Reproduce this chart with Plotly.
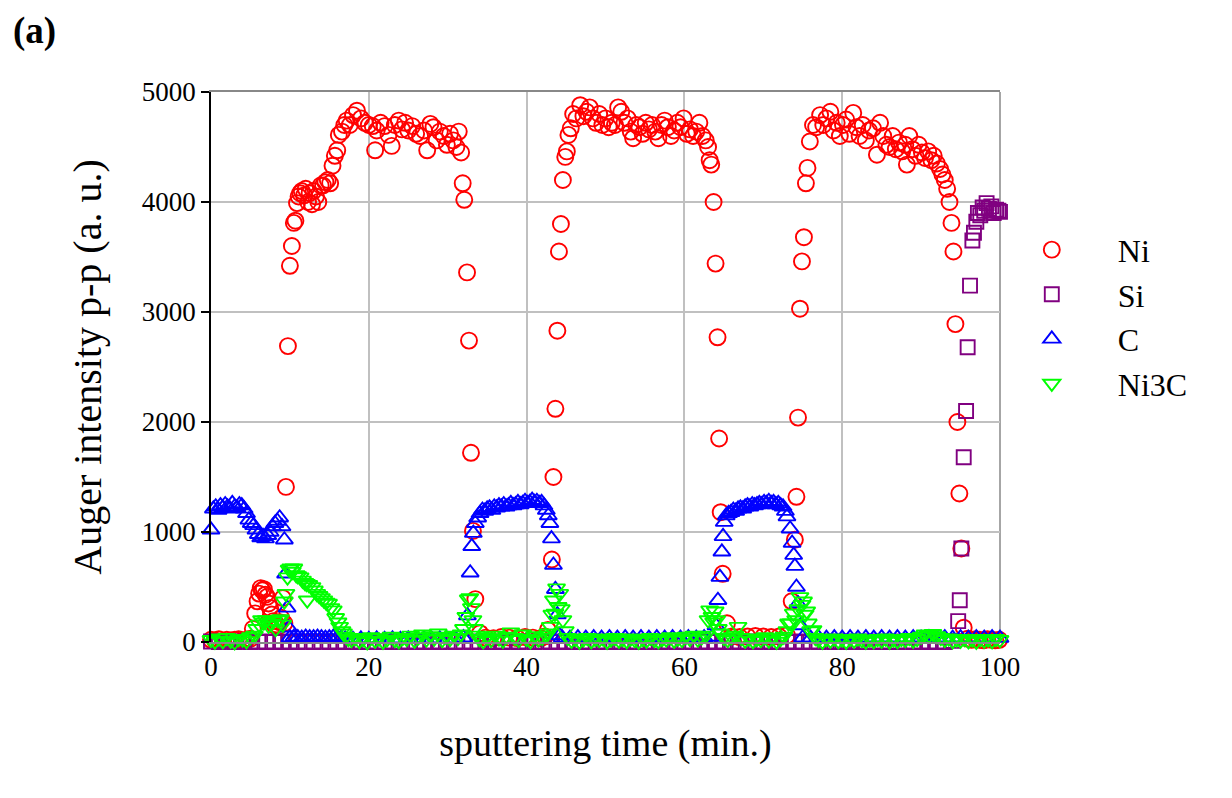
import plotly.graph_objects as go

# ---- data: (time [min], intensity [a.u.]) ----
ni_points = [
    (0, 20), (0.5, 15), (1, 25), (1.5, 10), (2, 20), (2.5, 15), (3, 20), (3.5, 25), (4, 15), (4.5, 20), (5, 30),
    (5.3, 120), (5.6, 260), (5.9, 370), (6.1, 440), (6.3, 490), (6.5, 470), (6.7, 480), (6.9, 430), (7.1, 410),
    (7.3, 350), (7.5, 310), (7.7, 250), (7.9, 190), (8.1, 150), (8.3, 160), (8.5, 140), (8.7, 180), (8.9, 220),
    (9.1, 400), (9.3, 170),
    (9.5, 1410), (9.75, 2690), (10.0, 3420), (10.25, 3600), (10.5, 3810), (10.7, 3830), (10.9, 3990), (11.1, 4050),
    (11.3, 4080), (11.5, 4100), (11.8, 4060), (12.0, 4120), (12.3, 4000), (12.5, 4080), (12.8, 3980), (13.0, 4100),
    (13.3, 4050), (13.6, 4000), (13.9, 4150), (14.2, 4150), (14.5, 4180), (14.8, 4200), (15.1, 4170), (15.4, 4330),
    (15.7, 4420), (16.0, 4470), (16.2, 4610), (16.6, 4640), (16.9, 4700), (17.2, 4740), (17.6, 4700), (18.0, 4790),
    (18.5, 4830), (19.0, 4760), (19.5, 4720), (20.0, 4700), (20.5, 4690), (20.8, 4470), (21.0, 4650), (21.5, 4720),
    (22.0, 4690), (22.5, 4610), (22.9, 4510), (23.3, 4700), (23.8, 4740), (24.2, 4660), (24.6, 4720), (25.0, 4650),
    (25.5, 4690), (26.0, 4620), (26.5, 4600), (27.0, 4650), (27.4, 4470), (27.8, 4710), (28.2, 4680), (28.6, 4560),
    (29.0, 4640), (29.5, 4600), (29.9, 4520), (30.3, 4620), (30.7, 4560), (31.1, 4500), (31.4, 4640), (31.7, 4450),
    (31.9, 4170), (32.1, 4020), (32.45, 3360), (32.7, 2740), (32.95, 1720), (33.2, 1010), (33.5, 390), (34.1, 80),
    (34.8, 40), (35.8, 35), (36.8, 45), (37.8, 40), (38.8, 35), (39.8, 45), (40.8, 40), (41.8, 35), (42.3, 50),
    (42.7, 110), (43.2, 750), (43.4, 1500), (43.65, 2120), (43.9, 2830), (44.1, 3550), (44.35, 3800), (44.6, 4200),
    (44.9, 4410), (45.1, 4460), (45.3, 4610), (45.6, 4670), (45.9, 4800), (46.3, 4760), (46.8, 4880), (47.2, 4780),
    (47.6, 4820), (48.0, 4860), (48.4, 4760), (48.8, 4720), (49.2, 4800), (49.6, 4700), (50.0, 4760), (50.4, 4680),
    (50.8, 4720), (51.2, 4700), (51.6, 4860), (52.0, 4820), (52.4, 4720), (52.8, 4760), (53.2, 4640), (53.5, 4580),
    (53.9, 4700), (54.3, 4680), (54.7, 4620), (55.1, 4720), (55.5, 4660), (55.9, 4700), (56.3, 4640), (56.7, 4580),
    (57.1, 4700), (57.5, 4740), (57.9, 4680), (58.3, 4600), (58.7, 4650), (59.1, 4720), (59.5, 4680), (59.9, 4760),
    (60.3, 4620), (60.7, 4660), (61.1, 4600), (61.5, 4640), (61.9, 4720), (62.3, 4600), (62.7, 4560), (63.0, 4500),
    (63.2, 4380), (63.4, 4340),
    (63.7, 4000), (63.95, 3440), (64.2, 2770), (64.4, 1850), (64.6, 1180), (64.85, 620), (65.4, 170),
    (66.0, 50), (67.0, 45), (68.0, 50), (69.0, 55), (70.0, 50), (71.0, 45), (72.0, 50), (73.0, 60),
    (73.6, 370), (74.0, 930), (74.2, 1320), (74.4, 2040), (74.65, 3030), (74.9, 3460), (75.15, 3680), (75.4, 4170),
    (75.6, 4310), (75.9, 4550), (76.3, 4700), (76.7, 4680), (77.2, 4790), (77.6, 4700), (78.0, 4760), (78.5, 4820),
    (78.9, 4650), (79.3, 4720), (79.7, 4600), (80.1, 4700), (80.5, 4750), (80.9, 4620), (81.4, 4810), (81.8, 4680),
    (82.2, 4600), (82.6, 4700), (83.0, 4560), (83.4, 4650), (83.9, 4670), (84.4, 4430), (84.8, 4720), (85.2, 4600),
    (85.6, 4520), (86.0, 4500), (86.4, 4600), (86.8, 4480), (87.2, 4540), (87.6, 4460), (88.0, 4520), (88.2, 4340),
    (88.5, 4600), (88.9, 4480), (89.3, 4420), (89.7, 4520), (90.1, 4450), (90.5, 4400), (90.9, 4460), (91.3, 4380),
    (91.6, 4420), (92.0, 4350), (92.4, 4300), (92.7, 4250), (93.0, 4200), (93.3, 4120), (93.6, 4000), (93.85, 3810),
    (94.1, 3550), (94.35, 2890), (94.6, 2000), (94.85, 1350), (95.1, 850), (95.4, 130),
    (95.9, 30), (96.4, 20), (96.9, 25), (97.4, 20), (97.9, 15), (98.4, 25), (98.9, 20), (99.4, 15), (99.9, 20),
]

si_points = [
    (0, 5), (1, 0), (2, 5), (3, 0), (4, 5), (5, 0), (6, 5), (7, 0), (8, 5), (9, 0), (10, 5), (11, 0), (12, 5),
    (13, 0), (14, 5), (15, 0), (16, 5), (17, 0), (18, 5), (19, 0), (20, 5), (21, 0), (22, 5), (23, 0), (24, 5),
    (25, 0), (26, 5), (27, 0), (28, 5), (29, 0), (30, 5), (31, 0), (32, 5), (33, 0), (34, 5), (35, 0), (36, 5),
    (37, 0), (38, 5), (39, 0), (40, 5), (41, 0), (42, 5), (43, 0), (44, 5), (45, 0), (46, 5), (47, 0), (48, 5),
    (49, 0), (50, 5), (51, 0), (52, 5), (53, 0), (54, 5), (55, 0), (56, 5), (57, 0), (58, 5), (59, 0), (60, 5),
    (61, 0), (62, 5), (63, 0), (64, 5), (65, 0), (66, 5), (67, 0), (68, 5), (69, 0), (70, 5), (71, 0), (72, 5),
    (73, 0), (74, 5), (75, 0), (76, 5), (77, 0), (78, 5), (79, 0), (80, 5), (81, 0), (82, 5), (83, 0), (84, 5),
    (85, 0), (86, 5), (87, 0), (88, 5), (89, 0), (90, 5), (91, 0), (92, 5), (93, 0), (94, 10),
    (94.7, 190), (94.9, 380), (95.1, 850), (95.4, 1680), (95.7, 2100), (95.9, 2680), (96.2, 3240), (96.5, 3650),
    (96.7, 3720), (97.0, 3820), (97.2, 3900), (97.5, 3880), (97.8, 3950), (98.0, 3920), (98.3, 3990), (98.6, 3940),
    (98.9, 3960), (99.2, 3900), (99.5, 3930), (99.8, 3920), (100.0, 3910),
]

c_points = [
    (0.0, 1020), (0.3, 1210), (0.6, 1230), (0.9, 1200), (1.2, 1240), (1.5, 1220), (1.8, 1250), (2.1, 1230),
    (2.4, 1210), (2.7, 1260), (3.0, 1230), (3.3, 1220), (3.6, 1250), (3.9, 1240), (4.2, 1210), (4.5, 1170),
    (4.8, 1110), (5.1, 1080), (5.4, 1060), (5.7, 1020), (6.0, 980), (6.3, 950), (6.6, 960), (6.9, 940),
    (7.2, 970), (7.5, 1000), (7.8, 1050), (8.1, 1080), (8.4, 1100), (8.7, 1130), (9.0, 1050), (9.3, 930),
    (9.45, 620), (9.65, 310), (9.85, 130),
    (10.0, 40), (10.5, 45), (11.0, 40), (11.5, 35), (12.0, 45), (12.5, 40), (13.0, 40), (13.5, 45), (14.0, 40),
    (14.5, 35), (15.0, 40), (15.5, 45), (16.0, 40), (16.5, 35), (17.0, 30), (18, 25), (19, 30), (20, 25),
    (21, 30), (22, 25), (23, 30), (24, 25), (25, 30), (26, 25), (27, 30), (28, 25), (29, 30), (30, 25), (31, 30),
    (32.0, 40), (32.5, 240), (32.85, 630), (33.05, 870), (33.25, 990), (33.5, 1080), (33.8, 1130), (34.1, 1170),
    (34.4, 1200), (34.7, 1190), (35.0, 1210), (35.3, 1220), (35.6, 1200), (35.9, 1230), (36.2, 1220), (36.5, 1240),
    (36.8, 1230), (37.1, 1250), (37.4, 1230), (37.7, 1240), (38.0, 1260), (38.3, 1240), (38.6, 1250), (38.9, 1270),
    (39.2, 1250), (39.5, 1260), (39.8, 1280), (40.1, 1260), (40.4, 1270), (40.7, 1290), (41.0, 1270), (41.3, 1280),
    (41.6, 1260), (41.9, 1270), (42.2, 1240), (42.5, 1200), (42.75, 1150), (42.95, 1080), (43.15, 940),
    (43.4, 700), (43.65, 480), (43.9, 250), (44.2, 60),
    (44.5, 40), (45.5, 35), (46.5, 40), (47.5, 35), (48.5, 40), (49.5, 35), (50.5, 40), (51.5, 35), (52.5, 40),
    (53.5, 35), (54.5, 40), (55.5, 35), (56.5, 40), (57.5, 35), (58.5, 40), (59.5, 35), (60.5, 40), (61.5, 35),
    (62.5, 40), (63.5, 45),
    (64.0, 150), (64.25, 380), (64.5, 590), (64.75, 820), (64.9, 960), (65.05, 1090), (65.3, 1150), (65.6, 1170),
    (65.9, 1180), (66.2, 1200), (66.5, 1190), (66.8, 1210), (67.1, 1220), (67.4, 1210), (67.7, 1230), (68.0, 1240),
    (68.3, 1230), (68.6, 1250), (68.9, 1240), (69.2, 1250), (69.5, 1260), (69.8, 1250), (70.1, 1270), (70.4, 1260),
    (70.7, 1280), (71.0, 1260), (71.3, 1270), (71.6, 1250), (71.9, 1260), (72.2, 1240), (72.5, 1230), (72.8, 1190),
    (73.0, 1140), (73.4, 1030), (73.65, 900), (73.85, 790), (74.0, 690), (74.2, 500), (74.4, 350), (74.7, 150),
    (75, 40), (76, 35), (77, 40), (78, 35), (79, 40), (80, 35), (81, 40), (82, 35), (83, 40), (84, 35), (85, 40),
    (86, 35), (87, 40), (88, 35), (89, 40), (90, 35), (91, 40), (92, 35), (93, 40), (94, 35), (95, 40), (96, 35),
    (97, 40), (98, 35), (99, 40), (100, 35),
]

ni3c_points = [
    (0, 20), (0.5, 5), (1, 35), (1.5, 10), (2, 40), (2.5, 15), (3, 0), (3.5, 30), (4, 25), (4.5, 10), (5, 45),
    (5.5, 60), (5.8, 120), (6.1, 160), (6.4, 200), (6.7, 180), (7.0, 200), (7.3, 150), (7.6, 170), (7.9, 190),
    (8.2, 120), (8.5, 200), (8.8, 210), (9.1, 160), (9.3, 370), (9.5, 440), (9.7, 590), (9.9, 660), (10.1, 670),
    (10.3, 640), (10.5, 670), (10.8, 610), (11.0, 600), (11.3, 590), (11.6, 560), (11.9, 540), (12.1, 530),
    (12.2, 380), (12.4, 520), (12.8, 500), (13.1, 470), (13.4, 440), (13.7, 420), (14.0, 400), (14.3, 380),
    (14.6, 360), (14.9, 350), (15.2, 310), (15.5, 290), (15.8, 220), (16.1, 180), (16.3, 140), (16.6, 100),
    (16.8, 80), (17.1, 50), (17.4, 30),
    (17.8, 20), (18.3, 40), (18.8, 10), (19.3, 30), (19.8, 0), (20.3, 45), (20.8, 15), (21.3, 35), (21.8, 5),
    (22.3, 25), (22.8, 50), (23.3, 20), (23.8, 10), (24.3, 40), (24.8, 30), (25.3, 60), (25.8, 15), (26.3, 45),
    (26.8, 70), (27.3, 25), (27.8, 55), (28.3, 35), (28.8, 80), (29.3, 20), (29.8, 50), (30.3, 30), (30.8, 60),
    (31.3, 40),
    (31.7, 70), (32.0, 120), (32.3, 230), (32.6, 390), (32.8, 400), (33.0, 310), (33.2, 200), (33.4, 120), (33.7, 60),
    (34.0, 30), (34.5, 10), (35.0, 45), (35.5, 20), (36.0, 60), (36.5, 35), (37.0, 15), (37.5, 50), (38.0, 90),
    (38.5, 40), (39.0, 20), (39.5, 70), (40.0, 30), (40.5, 10), (41.0, 55), (41.5, 25), (42.0, 40),
    (42.5, 60), (42.7, 80), (43.0, 140), (43.2, 250), (43.4, 380), (43.6, 260), (43.8, 490), (44.0, 320),
    (44.2, 440), (44.4, 300), (44.6, 200), (44.9, 100),
    (45.2, 40), (45.7, 15), (46.2, 30), (46.7, 5), (47.2, 25), (47.7, 40), (48.2, 10), (48.7, 30), (49.2, 20),
    (49.7, 35), (50.2, 5), (50.7, 25), (51.2, 40), (51.7, 15), (52.2, 30), (52.7, 10), (53.2, 35), (53.7, 20),
    (54.2, 5), (54.7, 30), (55.2, 15), (55.7, 40), (56.2, 20), (56.7, 10), (57.2, 30), (57.7, 25), (58.2, 45),
    (58.7, 15), (59.2, 35), (59.7, 20), (60.2, 50), (60.7, 30), (61.2, 60), (61.7, 25), (62.2, 45), (62.7, 60),
    (63.0, 200), (63.2, 290), (63.5, 230), (63.7, 180), (63.9, 280), (64.1, 200), (64.3, 120), (64.6, 80),
    (65.0, 40), (65.5, 20), (66.0, 45), (66.4, 60), (66.8, 140), (67.2, 40), (67.7, 15), (68.2, 35), (68.7, 10),
    (69.2, 30), (69.7, 20), (70.2, 45), (70.7, 15), (71.2, 35), (71.7, 5), (72.2, 30), (72.6, 50),
    (73.0, 100), (73.2, 170), (73.5, 170), (73.8, 260), (74.1, 200), (74.4, 300), (74.65, 410), (74.9, 340),
    (75.1, 370), (75.3, 250), (75.5, 280), (75.7, 170), (76.0, 100), (76.3, 110), (76.6, 40),
    (77.0, 20), (77.5, 5), (78.0, 30), (78.5, 15), (79.0, 35), (79.5, 10), (80.0, 25), (80.5, 5), (81.0, 30),
    (81.5, 15), (82.0, 35), (82.5, 20), (83.0, 5), (83.5, 25), (84.0, 10), (84.5, 30), (85.0, 15), (85.5, 35),
    (86.0, 5), (86.5, 25), (87.0, 10), (87.5, 30), (88.0, 20), (88.5, 40), (89.0, 15), (89.5, 30), (90.0, 50),
    (90.5, 70), (91.0, 60), (91.5, 75), (92.0, 55), (92.5, 40), (93.0, 20), (93.5, 35), (94.0, 10), (94.5, 25),
    (95.0, 15), (95.5, 30), (96.0, 10), (96.5, 25), (97.0, 5), (97.5, 30), (98.0, 15), (98.5, 25), (99.0, 10),
    (99.5, 30), (100.0, 20),
]

series_names = ["Ni", "Si", "C", "Ni3C"]
series_points = [ni_points, si_points, c_points, ni3c_points]
series_colors = ["#FF0000", "#800080", "#0000FF", "#00FF00"]
series_symbols = ["circle-open", "square-open", "triangle-up-open", "triangle-down-open"]
series_sizes = [16, 14, 15, 15]

x_tick_vals = [0, 20, 40, 60, 80, 100]
y_tick_vals = [0, 1000, 2000, 3000, 4000, 5000]

FONT = "Liberation Serif, Times New Roman, serif"

fig = go.Figure()
for name, pts, col, sym, sz in zip(series_names, series_points, series_colors, series_symbols, series_sizes):
    fig.add_trace(go.Scatter(
        x=[p[0] for p in pts], y=[p[1] for p in pts],
        mode="markers", name=name, cliponaxis=False,
        marker=dict(symbol=sym, size=sz, color=col, line=dict(color=col, width=1.9)),
    ))

fig.update_layout(
    width=1232, height=798,
    paper_bgcolor="white", plot_bgcolor="white",
    margin=dict(l=203, r=240, t=84, b=164),
    font=dict(family=FONT, size=27, color="black"),
    title=dict(text="<b>(a)</b>", x=0.004, xanchor="left", y=0.972, yanchor="middle",
               font=dict(family=FONT, size=37, color="black")),
    showlegend=True,
    legend=dict(x=0.982, y=0.763, xanchor="left", yanchor="top",
                font=dict(family=FONT, size=32, color="black"),
                itemwidth=122, tracegroupgap=0, bgcolor="rgba(0,0,0,0)"),
    xaxis=dict(range=[0, 100], tickvals=x_tick_vals, ticks="", showgrid=True,
               gridcolor="#C0C0C0", gridwidth=1.5, zeroline=False,
               showline=True, linecolor="#888888", linewidth=1.5, mirror=True,
               tickfont=dict(family=FONT, size=27),
               title=dict(text="sputtering time (min.)", standoff=48,
                          font=dict(family=FONT, size=38))),
    yaxis=dict(range=[0, 5000], tickvals=y_tick_vals, ticks="outside", ticklen=8,
               tickcolor="black", tickwidth=1.5, showgrid=True,
               gridcolor="#C0C0C0", gridwidth=1.5, zeroline=False,
               showline=True, linecolor="black", linewidth=1.5,
               tickfont=dict(family=FONT, size=27),
               title=dict(text="Auger intensity p-p (a. u.)", standoff=28,
                          font=dict(family=FONT, size=40))),
    shapes=[dict(type="line", xref="x domain", yref="y domain", x0=1, x1=1, y0=0, y1=1,
                 line=dict(color="#888888", width=1.5), layer="below")],
)

fig.write_html("out.html")
